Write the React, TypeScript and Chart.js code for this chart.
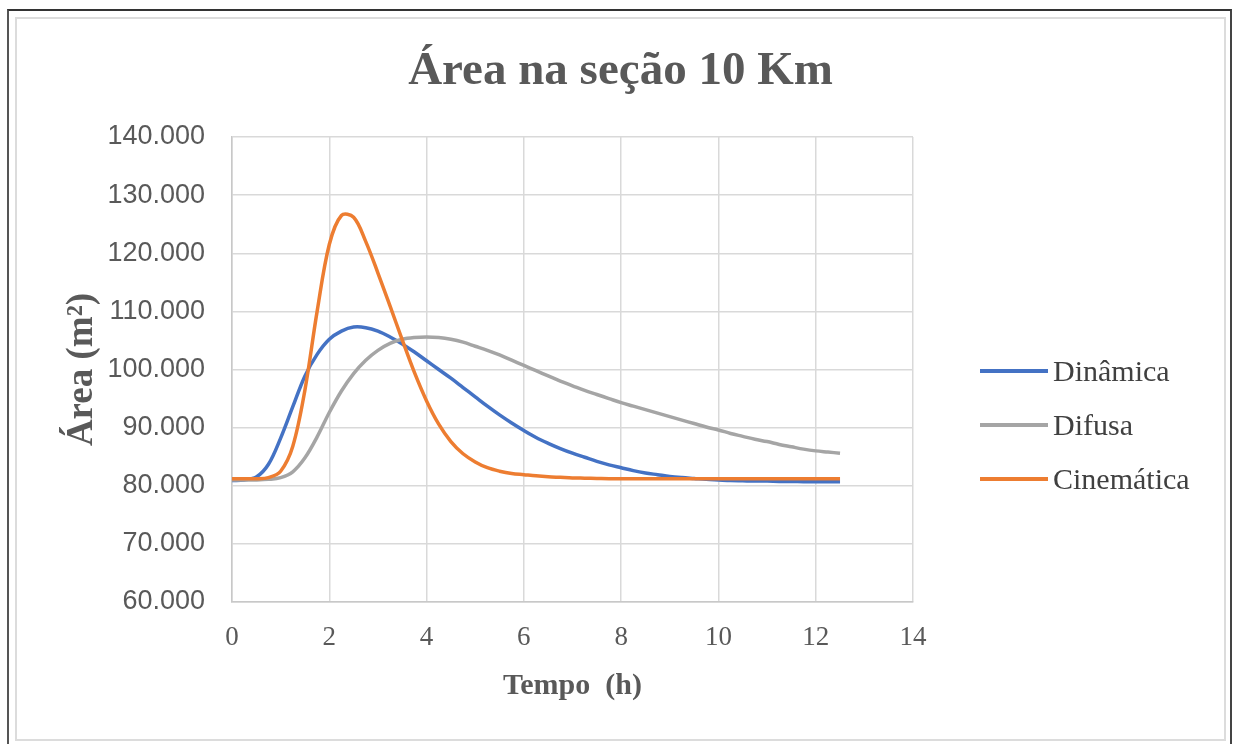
import React, { useEffect, useRef } from "react";
import { Chart, registerables } from "chart.js";

Chart.register(...registerables);

// Tempo (h)
const tempo = [
  0, 0.25, 0.5, 0.75, 1, 1.25, 1.5, 1.75, 2, 2.25, 2.5, 2.75, 3, 3.25, 3.5, 3.75,
  4, 4.25, 4.5, 4.75, 5, 5.25, 5.5, 5.75, 6, 6.25, 6.5, 6.75, 7, 7.25, 7.5, 7.75,
  8, 8.25, 8.5, 8.75, 9, 9.25, 9.5, 9.75, 10, 10.25, 10.5, 10.75, 11, 11.25, 11.5,
  11.75, 12, 12.25, 12.5,
];

// Área (m²)
const dinamica = [
  80900, 81000, 81500, 83700, 88200, 93600, 98900, 102600, 105200, 106600, 107300,
  107200, 106600, 105600, 104400, 103000, 101500, 100000, 98500, 96900, 95300, 93700,
  92200, 90800, 89500, 88300, 87300, 86400, 85600, 84900, 84200, 83600, 83100, 82600,
  82200, 81900, 81600, 81400, 81250, 81100, 81000, 80900, 80850, 80800, 80800, 80750,
  80750, 80700, 80700, 80700, 80700,
];

const difusa = [
  81000, 81000, 81000, 81100, 81400, 82400, 84800, 88400, 92600, 96300, 99300,
  101600, 103300, 104500, 105200, 105500, 105600, 105500, 105200, 104700, 104000,
  103300, 102500, 101600, 100700, 99800, 98900, 98000, 97200, 96400, 95700, 95000,
  94300, 93700, 93100, 92500, 91900, 91300, 90700, 90100, 89600, 89000, 88500, 88000,
  87600, 87100, 86700, 86300, 86000, 85800, 85600,
];

const cinematica = [
  81200, 81200, 81200, 81400, 82500, 86800, 96500, 110000, 121500, 126500, 126200,
  122000, 116600, 110900, 105100, 99500, 94600, 90600, 87600, 85500, 84100, 83100,
  82500, 82100, 81900, 81700, 81550, 81450, 81350, 81300, 81250, 81200, 81200, 81200,
  81200, 81200, 81200, 81200, 81200, 81200, 81200, 81200, 81200, 81200, 81200, 81200,
  81200, 81200, 81200, 81200, 81200,
];

const seriesNames = ["Dinâmica", "Difusa", "Cinemática"];
const seriesColors = ["#4472C4", "#A5A5A5", "#ED7D31"];
const seriesData = [dinamica, difusa, cinematica];
const seriesOrder = [3, 2, 1];

const titleText = "Área na seção 10 Km";
const xTitle = "Tempo  (h)";
const yTitle = "Área (m²)";
const xMin = 0;
const xMax = 14;
const xStep = 2;
const yMin = 60000;
const yMax = 140000;
const yStep = 10000;

const fmt = (v: number) =>
  Math.round(v)
    .toString()
    .replace(/\B(?=(\d{3})+(?!\d))/g, ".");

export default function App() {
  const ref = useRef<HTMLCanvasElement | null>(null);

  useEffect(() => {
    if (!ref.current) return;
    const chart = new Chart(ref.current, {
      type: "line",
      data: {
        datasets: seriesNames.map((name, i) => ({
          label: name,
          data: tempo.map((t, j) => ({ x: t, y: seriesData[i][j] })),
          borderColor: seriesColors[i],
          backgroundColor: seriesColors[i],
          borderWidth: 3.5,
          pointRadius: 0,
          tension: 0.35,
          fill: false,
          order: seriesOrder[i],
          xAxisID: "x",
          yAxisID: "y",
        })),
      },
      options: {
        animation: false,
        responsive: false,
        maintainAspectRatio: false,
        layout: { padding: 0 },
        plugins: {
          legend: { display: false },
          tooltip: { enabled: false },
          title: {
            display: true,
            text: titleText,
            color: "#595959",
            font: { family: "'Liberation Serif', serif", size: 47, weight: "bold", lineHeight: 1.2 },
            padding: { top: 24.8, bottom: 36.8 },
          },
        },
        scales: {
          x: {
            type: "linear",
            min: xMin,
            max: xMax,
            afterFit: (s: any) => {
              s.height = 137;
            },
            ticks: {
              stepSize: xStep,
              color: "#595959",
              padding: 19.3,
              font: { family: "'Liberation Serif', serif", size: 27, lineHeight: 1.2 },
            },
            grid: { color: "#d9d9d9", lineWidth: 1.5, drawTicks: false },
            border: { color: "#c8c8c8", width: 1.5 },
            title: {
              display: true,
              text: xTitle,
              color: "#595959",
              font: { family: "'Liberation Serif', serif", size: 30, weight: "bold", lineHeight: 1.2 },
              padding: { top: 0, bottom: 35 },
            },
          },
          y: {
            type: "linear",
            position: "left",
            min: yMin,
            max: yMax,
            afterFit: (s: any) => {
              s.width = 215;
            },
            ticks: {
              stepSize: yStep,
              color: "#595959",
              padding: 27,
              font: { family: "'Liberation Sans', sans-serif", size: 27, lineHeight: 1.2 },
              callback: (v: any) => fmt(Number(v)),
            },
            grid: { color: "#d9d9d9", lineWidth: 1.5, drawTicks: false },
            border: { color: "#c8c8c8", width: 1.5 },
            title: {
              display: true,
              text: yTitle,
              color: "#595959",
              font: { family: "'Liberation Serif', serif", size: 37, weight: "bold", lineHeight: 1.2 },
              padding: { top: 43, bottom: 0 },
            },
          },
          spacer: {
            type: "linear",
            position: "right",
            display: true,
            afterFit: (s: any) => {
              s.width = 311;
            },
            ticks: { display: false },
            grid: { display: false, drawTicks: false },
            border: { display: false },
            title: { display: false },
          },
        },
      },
    });
    return () => chart.destroy();
  }, []);

  const legendRows = [371, 425, 479];

  return (
    <div
      style={{
        position: "absolute",
        left: 0,
        top: 0,
        width: 1234,
        height: 744,
        background: "#fff",
        overflow: "hidden",
      }}
    >
      <div
        style={{
          position: "absolute",
          left: 7,
          top: 9,
          width: 1221,
          height: 800,
          borderLeft: "2px solid #555",
          borderTop: "2px solid #333",
          borderRight: "2px solid #444",
        }}
      />
      <div
        style={{
          position: "absolute",
          left: 15,
          top: 17,
          width: 1207,
          height: 720,
          border: "2px solid #dcdcdc",
        }}
      />
      <canvas
        ref={ref}
        width={1207}
        height={720}
        style={{ position: "absolute", left: 17, top: 19, width: 1207, height: 720 }}
      />
      {seriesNames.map((name, i) => (
        <div
          key={name}
          style={{
            position: "absolute",
            left: 980,
            top: legendRows[i] - 18,
            height: 36,
            display: "flex",
            alignItems: "center",
            fontFamily: "'Liberation Serif', serif",
            fontSize: 30,
            color: "#404040",
            whiteSpace: "nowrap",
          }}
        >
          <span
            style={{
              display: "inline-block",
              width: 68,
              height: 4,
              background: seriesColors[i],
              marginRight: 5,
            }}
          />
          <span>{name}</span>
        </div>
      ))}
    </div>
  );
}
